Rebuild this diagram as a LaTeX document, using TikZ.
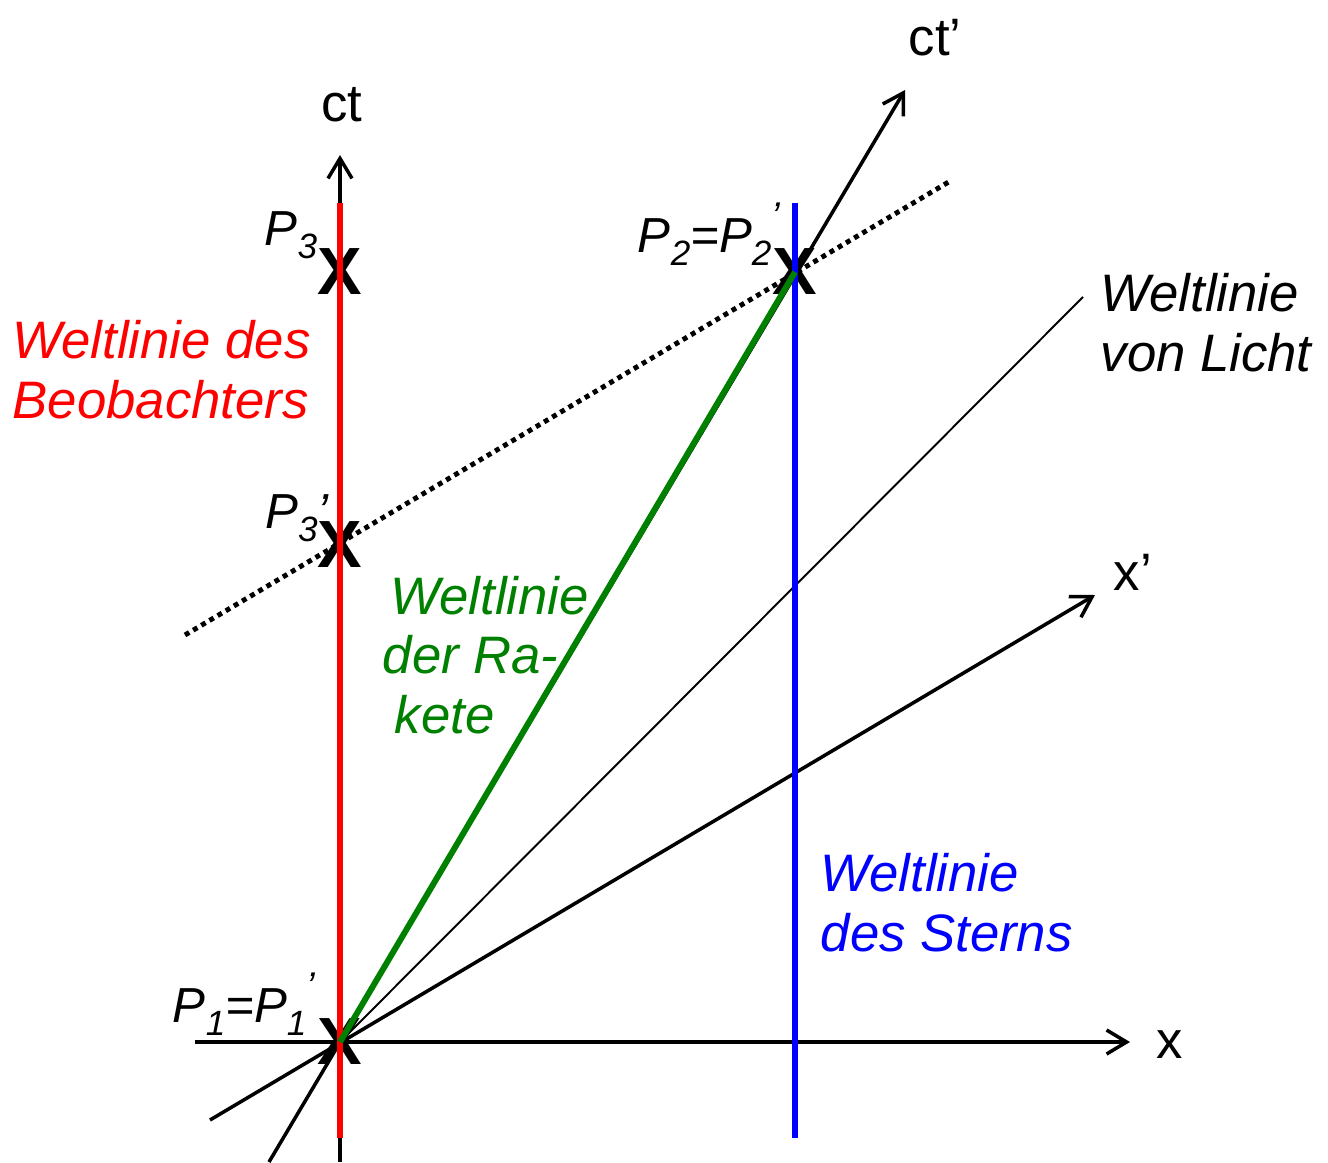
\documentclass[tikz,border=0pt]{standalone}
\usepackage{fontspec}
\setmainfont{Liberation Sans}
\usetikzlibrary{arrows.meta}
\definecolor{cRed}{RGB}{255,0,0}
\definecolor{cBlue}{RGB}{0,0,255}
\definecolor{cGreen}{RGB}{0,128,0}
\newcommand{\Psub}[2]{P\raisebox{-0.5ex}{\fontsize{10}{10}\selectfont #1}#2}
\newcommand{\Pstr}{\raisebox{0.9ex}{\fontsize{11}{11}\selectfont ’}}

\begin{document}
\begin{tikzpicture}[
            ax/.style={line width=1pt, -{Straight Barb[length=2mm,width=2.4mm]}},
            wl/.style={line width=1.7pt},
            xmark/.style={font=\fontsize{19}{19}\selectfont\bfseries, inner sep=0pt},
            plbl/.style={font=\fontsize{14}{16}\selectfont\itshape, inner sep=0pt},
            albl/.style={font=\fontsize{15}{17}\selectfont, inner sep=0pt},
            txt/.style={font=\fontsize{15}{17}\selectfont\itshape, align=left, inner sep=0pt, anchor=west}]
            \useasboundingbox (-3.40,-1.20) rectangle (9.88,10.42);
            % events
            \foreach \n/\x/\y in {P1/0/0, P2/4.55/7.70, P3/0/7.70, P3s/0/4.97}{
                \node[xmark] (\n) at (\x,\y) {X};}
            \coordinate (ctB) at (0,-1.20);  \coordinate (ctT) at (0,8.87);
            \coordinate (xL) at (-1.45,0);   \coordinate (xR) at (7.90,0);
            \coordinate (ctsB) at (-0.71,-1.20); \coordinate (ctsT) at (5.65,9.52);
            \coordinate (xsL) at (-1.30,-0.78);  \coordinate (xsR) at (7.55,4.47);
            \coordinate (lic) at (7.43,7.45);
            \coordinate (dL) at (-1.55,4.07);  \coordinate (dR) at (6.12,8.62);
            \coordinate (rB) at (0,-0.96);     \coordinate (rT) at (0,8.39);
            \coordinate (bB) at (4.55,-0.96);  \coordinate (bT) at (4.55,8.39);
            % axes
            \draw[ax] (ctB) -- (ctT);
            \draw[ax] (xL) -- (xR);
            \draw[ax] (ctsB) -- (ctsT);
            \draw[ax] (xsL) -- (xsR);
            \draw[line width=0.55pt] (P1.center) -- (lic);
            \draw[line width=1.4pt, dash pattern=on 1.4pt off 1.3pt] (dL) -- (dR);
            % world lines
            \draw[wl, cRed] (rB) -- (rT);
            \draw[wl, cBlue] (bB) -- (bT);
            \draw[wl, cGreen] (P1.center) -- (P2.center);
            \node[albl] (ct) at (0.02,9.37) {ct};
            \node[albl] (cts) at (5.95,10.04) {ct’};
            \node[albl] (x) at (8.30,-0.03) {x};
            \node[albl] (xs) at (7.93,4.70) {x’};
            \node[plbl] (l3) at (-0.49,8.07) {\Psub{3}{}};
            \node[plbl] (l3s) at (-0.43,5.24) {\Psub{3}{’}};
            \node[plbl] (l2) at (3.69,8.08) {\Psub{2}{}=\Psub{2}{\Pstr}};
            \node[plbl] (l1) at (-0.96,0.38) {\Psub{1}{}=\Psub{1}{\Pstr}};
            \node[txt, text=cRed] (beob) at (-3.28,6.72) {Weltlinie des\\Beobachters};
            \node[txt] (licht) at (7.60,7.19) {Weltlinie\\von Licht};
            \node[txt, text=cGreen] (rak) at (0.42,3.87) {\hspace*{0.08cm}Weltlinie\\der Ra-\\\hspace*{0.12cm}kete};
            \node[txt, text=cBlue] (stern) at (4.80,1.39) {Weltlinie\\des Sterns};
\end{tikzpicture}
\end{document}
